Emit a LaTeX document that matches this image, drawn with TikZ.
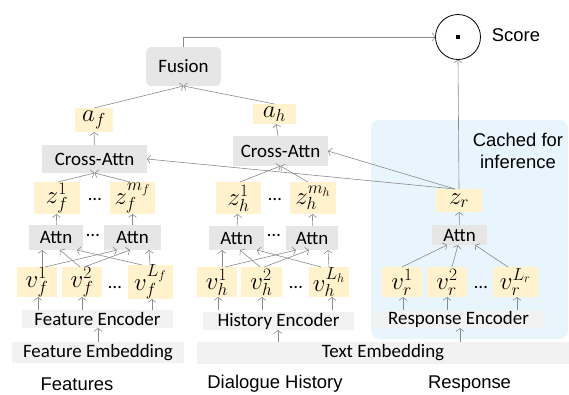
\RequirePackage{fix-cm}
\documentclass[tikz,border=0pt]{standalone}
\usepackage{fontspec}
\setmainfont{Carlito}
\newfontfamily\arialf{Liberation Sans}
\usetikzlibrary{arrows.meta}
\definecolor{ycol}{HTML}{FFF2CC}
\definecolor{gcol}{HTML}{E7E6E6}
\definecolor{lcol}{HTML}{F2F2F2}
\definecolor{bcol}{HTML}{E9F5FC}
\definecolor{acol}{HTML}{8A8A8A}
\begin{document}
\begin{tikzpicture}[x=1bp,y=-1bp,
  every node/.style={font=\fontsize{19}{22}\selectfont, inner sep=0pt, outer sep=0pt},
  ybox/.style={fill=ycol, font=\fontsize{25}{28}\selectfont},
  gbox/.style={fill=gcol},
  lbox/.style={fill=lcol},
  lab/.style={font=\arialf\fontsize{18.5}{22}\selectfont},
  arr/.style={draw=acol, line width=0.6bp, -{Straight Barb[length=3bp,width=8bp]}},
  ln/.style={draw=acol, line width=0.6bp}]
\useasboundingbox (0,0) rectangle (569,394);
% cached region
\fill[bcol, rounded corners=8bp] (371,120) rectangle (568,339);
% top
\node[gbox, rounded corners=5bp, minimum width=75bp, minimum height=39bp] (fus) at (183.5,66.5) {Fusion};
\node[draw=black, line width=0.8bp, circle, minimum size=45bp] (dot) at (458,37) {};
\fill (456,35) rectangle (460,39);
\node[lab] (score) at (516,35) {Score};
\node[lab, align=center] (cached) at (518,151) {Cached for\\inference};
% a nodes
\node[ybox, minimum width=38bp, minimum height=24bp] (af) at (94,120) {$a_f$};
\node[ybox, minimum width=43bp, minimum height=20bp] (ah) at (274.5,114) {$a_h$};
% cross attn
\node[gbox, minimum width=105bp, minimum height=28bp] (caf) at (94.5,159) {Cross-Attn};
\node[gbox, minimum width=95bp, minimum height=30bp] (cah) at (280.5,151) {Cross-Attn};
% z nodes
\node[ybox, minimum width=46bp, minimum height=32bp] (zf1) at (57,198) {$z_f^1$};
\node[ybox, minimum width=45bp, minimum height=32bp] (zfm) at (132.5,198) {$z_f^{m_f}$};
\node (zfd) at (95,199) {\ldots};
\node[ybox, minimum width=45bp, minimum height=32bp] (zh1) at (238.5,198) {$z_h^1$};
\node[ybox, minimum width=46bp, minimum height=32bp] (zhm) at (313,198) {$z_h^{m_h}$};
\node (zhd) at (275,199) {\ldots};
\node[ybox, minimum width=46bp, minimum height=23bp] (zr) at (459,200.5) {$z_r$};
% attn
\node[gbox, minimum width=54bp, minimum height=25bp] (af1) at (56,237.5) {Attn};
\node[gbox, minimum width=57bp, minimum height=25bp] (af2) at (132.5,237.5) {Attn};
\node (afd) at (93,235) {\ldots};
\node[gbox, minimum width=55bp, minimum height=24bp] (ah1) at (236.5,238) {Attn};
\node[gbox, minimum width=52bp, minimum height=24bp] (ah2) at (312,238) {Attn};
\node (ahd) at (274,235) {\ldots};
\node[gbox, minimum width=55bp, minimum height=20bp] (ar) at (459.5,235) {Attn};
% v nodes
\node[ybox, minimum width=40bp, minimum height=30bp] (vf1) at (37,282) {$v_f^1$};
\node[ybox, minimum width=40bp, minimum height=30bp] (vf2) at (82,282) {$v_f^2$};
\node[ybox, minimum width=45bp, minimum height=30bp] (vfL) at (150.5,282) {$v_f^{L_f}$};
\node (vfd) at (115,287) {\ldots};
\node[ybox, minimum width=40bp, minimum height=30bp] (vh1) at (217,282) {$v_h^1$};
\node[ybox, minimum width=41bp, minimum height=30bp] (vh2) at (261.5,282) {$v_h^2$};
\node[ybox, minimum width=40bp, minimum height=30bp] (vhL) at (329,282) {$v_h^{L_h}$};
\node (vhd) at (296,287) {\ldots};
\node[ybox, minimum width=40bp, minimum height=30bp] (vr1) at (402,282) {$v_r^1$};
\node[ybox, minimum width=40bp, minimum height=30bp] (vr2) at (447,282) {$v_r^2$};
\node[ybox, minimum width=45bp, minimum height=30bp] (vrL) at (515.5,282) {$v_r^{L_r}$};
\node (vrd) at (481,287) {\ldots};
% encoders
\node[lbox, minimum width=151bp, minimum height=18bp] (fe) at (97.5,319) {Feature Encoder};
\node[lbox, minimum width=151bp, minimum height=18bp] (he) at (278.5,321) {History Encoder};
\node[lbox, minimum width=172bp, minimum height=17bp] (re) at (458.5,319.5) {Response Encoder};
\node[lbox, minimum width=172bp, minimum height=21bp] (femb) at (98,352.5) {Feature Embedding};
\node[lbox, minimum width=372bp, minimum height=22bp] (temb) at (383,353) {Text Embedding};
% bottom labels
\node[lab] (l1) at (77,384) {Features};
\node[lab] (l2) at (275,384) {Dialogue History};
\node[lab] (l3) at (469.5,384) {Response};
% embedding -> encoder
\draw[arr] (femb.north -| 98,0) -- (fe.south -| 98,0);
\draw[arr] (temb.north -| 278,0) -- (he.south -| 278,0);
\draw[arr] (temb.north -| 460,0) -- (re.south -| 460,0);
% encoder -> v
\foreach \v/\x in {vf1/38, vf2/82, vfL/152, vh1/218, vh2/262, vhL/332, vr1/403, vr2/447, vrL/517}
  \draw[arr] (fe.north -| \x,0) -- (\v.south -| \x,0);
% v -> attn (features)
\draw[arr] (vf1.north -| 42,0) -- (af1.south -| 42,0);
\draw[arr] (vf1.north -| 45,0) -- (af2.south -| 117,0);
\draw[arr] (vf2.north -| 80,0) -- (af1.south -| 60,0);
\draw[arr] (vf2.north -| 84,0) -- (af2.south -| 130,0);
\draw[arr] (vfL.north -| 142,0) -- (af1.south -| 77,0);
\draw[arr] (vfL.north -| 150,0) -- (af2.south -| 149,0);
% v -> attn (history)
\draw[arr] (vh1.north -| 222,0) -- (ah1.south -| 222,0);
\draw[arr] (vh1.north -| 225,0) -- (ah2.south -| 296,0);
\draw[arr] (vh2.north -| 260,0) -- (ah1.south -| 240,0);
\draw[arr] (vh2.north -| 264,0) -- (ah2.south -| 309,0);
\draw[arr] (vhL.north -| 321,0) -- (ah1.south -| 257,0);
\draw[arr] (vhL.north -| 329,0) -- (ah2.south -| 328,0);
% v -> attn (response)
\draw[arr] (vr1.north -| 402,0) -- (ar.south -| 447,0);
\draw[arr] (vr2.north -| 452,0) -- (ar.south -| 458,0);
\draw[arr] (vrL.north -| 508,0) -- (ar.south -| 475,0);
% attn -> z
\draw[arr] (af1) -- (zf1);
\draw[arr] (af2) -- (zfm);
\draw[arr] (ah1) -- (zh1);
\draw[arr] (ah2) -- (zhm);
\draw[arr] (ar) -- (zr);
% z -> cross attn
\draw[arr] (zf1.north -| 58,0) -- (caf.south);
\draw[arr] (zfm.north -| 130,0) -- (caf.south);
\draw[arr] (zh1.north -| 240,0) -- (cah.south);
\draw[arr] (zhm.north -| 308,0) -- (cah.south);
\draw[arr] (zr.north -| 455,0) -- (cah.east);
\draw[arr] (zr.north -| 455,0) -- (caf.east);
% cross attn -> a
\draw[arr] (caf) -- (af);
\draw[arr] (cah) -- (ah);
% a -> fusion
\draw[arr] (af.north) -- (fus.south);
\draw[arr] (ah.north) -- (fus.south);
% to score
\draw[arr] (fus.north) |- (dot.west);
\draw[arr] (zr.north) -- (dot.south);
\end{tikzpicture}
\end{document}
